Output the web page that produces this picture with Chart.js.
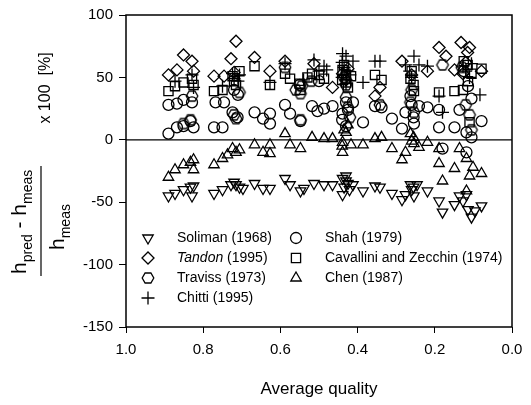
<!DOCTYPE html>
<html><head><meta charset="utf-8">
<script src="https://cdn.jsdelivr.net/npm/chart.js@4.4.0/dist/chart.umd.min.js"></script>
<style>html,body{margin:0;padding:0;background:#fff}#wrap{width:531px;height:405px}</style>
</head><body><div id="wrap"><canvas id="c" width="531" height="405"></canvas></div>
<script>
// ---- data ----
const xTicks = [1.0, 0.8, 0.6, 0.4, 0.2, 0.0];
const yTicks = [100, 50, 0, -50, -100, -150];
const seriesNames = ["Soliman (1968)", "Tandon (1995)", "Traviss (1973)", "Chitti (1995)", "Shah (1979)", "Cavallini and Zecchin (1974)", "Chen (1987)"];

const solimanX = [0.89,0.873,0.851,0.833,0.829,0.825,0.772,0.75,0.728,0.715,0.706,0.697,0.667,0.645,0.627,0.588,0.575,0.548,0.539,0.513,0.487,0.465,0.439,0.439,0.43,0.421,0.412,0.386,0.355,0.342,0.311,0.285,0.276,0.263,0.254,0.246,0.219,0.189,0.18,0.149,0.136,0.127,0.114,0.105,0.096,0.079,0.435,0.425,0.26,0.255,0.72,0.43,0.118];
const solimanY = [-45,-43,-40,-38,-45,-37,-43,-40,-36,-36,-38,-39,-35,-39,-39,-31,-36,-41,-39,-35,-36,-36,-31,-44,-33,-40,-36,-41,-37,-38,-43,-48,-44,-36,-45,-36,-41,-49,-58,-52,-45,-49,-56,-62,-57,-53,-38,-35,-40,-38,-34,-29,-44];

const tandonX = [0.89,0.868,0.851,0.829,0.825,0.772,0.746,0.728,0.715,0.667,0.627,0.588,0.513,0.465,0.439,0.355,0.342,0.285,0.219,0.189,0.171,0.149,0.132,0.127,0.11,0.079,0.43,0.425,0.26,0.72,0.115,0.12];
const tandonY = [52,56,68,63,55,51,51,65,79,66,55,63,61,42,53,35,42,63,55,74,67,56,78,53,74,55,48,57,52,54,70,62];

const travissX = [0.851,0.833,0.829,0.72,0.715,0.706,0.548,0.43,0.42,0.342,0.263,0.254,0.12,0.11,0.105,0.588,0.56,0.548,0.18,0.435,0.43,0.425,0.26,0.13,0.545,0.52];
const travissY = [13,16,35,20,17,38,16,34,18,28,30,22,28,20,8,58,40,37,60,50,44,26,40,58,43,47];

const chittiX = [0.873,0.829,0.825,0.75,0.724,0.706,0.627,0.588,0.513,0.487,0.439,0.43,0.412,0.386,0.355,0.342,0.276,0.254,0.241,0.219,0.18,0.127,0.105,0.083,0.189,0.44,0.425,0.435,0.43,0.42,0.44,0.265,0.26,0.72,0.71,0.12,0.11,0.54,0.5,0.48];
const chittiY = [47,52,42,43,53,52,46,61,64,59,69,67,63,46,63,63,60,67,60,59,22,59,61,36,35,50,55,58,45,52,62,55,50,49,47,55,50,48,55,56];

const shahX = [0.89,0.868,0.851,0.833,0.825,0.89,0.868,0.851,0.829,0.772,0.75,0.768,0.746,0.724,0.711,0.667,0.645,0.627,0.627,0.588,0.575,0.548,0.518,0.504,0.487,0.465,0.439,0.43,0.412,0.386,0.355,0.338,0.311,0.285,0.276,0.254,0.241,0.219,0.189,0.189,0.18,0.149,0.136,0.118,0.118,0.105,0.079,0.114,0.263,0.43,0.425,0.44,0.26,0.255,0.72,0.71,0.125,0.105,0.55,0.5];
const shahY = [5,10,11,15,10,28,29,32,30,10,10,30,30,22,18,22,17,21,13,28,21,15,27,23,25,27,21,11,30,14,27,26,17,9,22,13,27,26,10,24,-7,10,24,-10,6,2,15,43,35,30,24,16,28,18,40,36,55,33,44,47];

const cavalliniX = [0.89,0.873,0.851,0.829,0.825,0.772,0.75,0.724,0.706,0.667,0.627,0.588,0.575,0.548,0.518,0.487,0.439,0.43,0.417,0.355,0.338,0.263,0.254,0.189,0.149,0.127,0.114,0.105,0.079,0.11,0.435,0.43,0.425,0.44,0.26,0.255,0.72,0.715,0.125,0.115,0.55,0.53,0.5];
const cavalliniY = [39,43,46,49,44,39,40,51,55,59,44,53,49,40,53,49,56,46,51,52,48,49,39,38,39,40,47,53,57,14,60,52,42,48,55,44,47,44,63,60,45,50,52];

const chenX = [0.89,0.873,0.851,0.833,0.825,0.825,0.772,0.75,0.737,0.724,0.715,0.706,0.667,0.645,0.627,0.627,0.588,0.575,0.548,0.518,0.487,0.465,0.439,0.439,0.43,0.417,0.386,0.355,0.338,0.311,0.285,0.276,0.263,0.254,0.241,0.219,0.189,0.189,0.18,0.149,0.136,0.118,0.11,0.101,0.079,0.118,0.435,0.425,0.44,0.26,0.255];
const chenY = [-30,-24,-20,-18,-16,-24,-20,-15,-12,-7,-10,-8,-4,-10,-4,-11,5,-4,-7,2,1,1,-2,-10,6,-4,-4,1,2,-7,-16,-10,5,-3,-6,-2,-19,-7,-33,-23,-7,-15,-29,-22,-27,-41,8,12,-5,-1,2];

// ---- helpers ----
function zip(xs, ys){ return xs.map((x,i)=>({x:x, y:ys[i]})); }
const FONT = '"Liberation Sans", Arial, Helvetica, sans-serif';

// hexagon marker (flat top/bottom)
function makeHex(r){
  const s = Math.ceil(r*2+4);
  const cv = document.createElement('canvas'); cv.width = s; cv.height = s;
  const g = cv.getContext('2d');
  g.strokeStyle = '#000'; g.lineWidth = 1.3;
  g.beginPath();
  for (let k=0;k<6;k++){
    const a = Math.PI/3*k;
    const px = s/2 + r*Math.cos(a), py = s/2 + r*Math.sin(a);
    if(k===0) g.moveTo(px,py); else g.lineTo(px,py);
  }
  g.closePath(); g.stroke();
  return cv;
}
const hexImg = makeHex(5.8);

function ds(label, xs, ys, style, radius, rotation){
  return {
    label: label, data: zip(xs, ys), pointStyle: style, pointRadius: radius, pointHoverRadius: radius,
    pointRotation: rotation || 0, pointBorderColor: '#000', pointBackgroundColor: 'rgba(0,0,0,0)',
    pointBorderWidth: 1.3, showLine: false
  };
}

const datasets = [
  ds(seriesNames[0], solimanX, solimanY, 'triangle', 6, 180),
  ds(seriesNames[1], tandonX, tandonY, 'rectRot', 6),
  ds(seriesNames[2], travissX, travissY, hexImg, 5.8),
  ds(seriesNames[3], chittiX, chittiY, 'cross', 6.5),
  ds(seriesNames[4], shahX, shahY, 'circle', 5.5),
  ds(seriesNames[5], cavalliniX, cavalliniY, 'rect', 6.5),
  ds(seriesNames[6], chenX, chenY, 'triangle', 6)
];

// legend layout (inside plot)
const legendItems = [
  {i:0, col:0, row:0}, {i:1, col:0, row:1}, {i:2, col:0, row:2}, {i:3, col:0, row:3},
  {i:4, col:1, row:0}, {i:5, col:1, row:1}, {i:6, col:1, row:2}
];

const decor = {
  id: 'decor',
  beforeDatasetsDraw(chart){
    const {ctx, chartArea:a, scales} = chart;
    const y0 = scales.y.getPixelForValue(0);
    ctx.save(); ctx.strokeStyle = '#000'; ctx.lineWidth = 1.2;
    ctx.beginPath(); ctx.moveTo(a.left, y0); ctx.lineTo(a.right, y0); ctx.stroke();
    ctx.restore();
  },
  afterDraw(chart){
    const {ctx, chartArea:a} = chart;
    ctx.save();
    ctx.strokeStyle = '#000'; ctx.lineWidth = 1.5;
    ctx.strokeRect(a.left, a.top, a.right-a.left, a.bottom-a.top);

    // legend
    const colMarker = [148, 296], colText = [177, 325], rowY = [238, 258, 278, 298];
    ctx.textBaseline = 'middle'; ctx.textAlign = 'left';
    legendItems.forEach(it => {
      const d = datasets[it.i];
      const mx = colMarker[it.col], my = rowY[it.row];
      ctx.save();
      ctx.fillStyle = 'rgba(0,0,0,0)'; ctx.strokeStyle = '#000'; ctx.lineWidth = 1.3;
      Chart.helpers.drawPoint(ctx, {pointStyle: d.pointStyle, radius: d.pointRadius, rotation: d.pointRotation, borderWidth: 1.3}, mx, my);
      ctx.restore();
      ctx.fillStyle = '#000';
      const name = seriesNames[it.i];
      let tx = colText[it.col];
      if (it.i === 1) {
        ctx.font = 'italic 14px ' + FONT; ctx.fillText('Tandon', tx, my);
        tx += ctx.measureText('Tandon').width;
        ctx.font = '14px ' + FONT; ctx.fillText(' (1995)', tx, my);
      } else {
        ctx.font = '14px ' + FONT; ctx.fillText(name, tx, my);
      }
    });

    ctx.fillStyle = '#000'; ctx.strokeStyle = '#000';
    // x title
    ctx.font = '17px ' + FONT; ctx.textAlign = 'center'; ctx.textBaseline = 'alphabetic';
    ctx.fillText('Average quality', (a.left+a.right)/2, 394);

    // y title (rotated fraction)
    function runText(parts, baseX, startY){
      ctx.save(); ctx.translate(baseX, startY); ctx.rotate(-Math.PI/2);
      ctx.textAlign = 'left'; ctx.textBaseline = 'alphabetic';
      let p = 0;
      parts.forEach(pt => {
        ctx.font = pt.size + 'px ' + FONT;
        ctx.fillText(pt.t, p, pt.dy || 0);
        p += ctx.measureText(pt.t).width;
      });
      ctx.restore();
    }
    runText([{t:'h', size:21}, {t:'pred', size:14, dy:6}, {t:' - h', size:21}, {t:'meas', size:14, dy:6}], 26, 274);
    runText([{t:'h', size:21}, {t:'meas', size:14, dy:6}], 64, 250);
    ctx.lineWidth = 1.2;
    ctx.beginPath(); ctx.moveTo(41, 166); ctx.lineTo(41, 276); ctx.stroke();
    ctx.save(); ctx.translate(50, 88); ctx.rotate(-Math.PI/2);
    ctx.font = '16px ' + FONT; ctx.textAlign = 'center'; ctx.textBaseline = 'alphabetic';
    ctx.fillText('x 100  [%]', 0, 0);
    ctx.restore();

    ctx.restore();
  }
};

new Chart(document.getElementById('c'), {
  type: 'scatter',
  data: { datasets: datasets },
  options: {
    responsive: false, animation: false, devicePixelRatio: 1,
    layout: { padding: { top: 9, right: 19, left: 0, bottom: 0 } },
    plugins: { legend: { display: false }, tooltip: { enabled: false } },
    scales: {
      x: {
        type: 'linear', reverse: true, min: 0, max: 1,
        afterBuildTicks: s => { s.ticks = xTicks.map(v => ({value: v})); },
        afterFit: s => { s.height = 78; },
        ticks: { color: '#000', font: { size: 15, family: FONT }, padding: 8, callback: v => Number(v).toFixed(1), maxRotation: 0 },
        grid: { drawOnChartArea: false, drawTicks: true, tickLength: 6, color: '#000', lineWidth: 1 },
        border: { display: false }
      },
      y: {
        type: 'linear', min: -150, max: 100,
        afterBuildTicks: s => { s.ticks = yTicks.map(v => ({value: v})); },
        afterFit: s => { s.width = 126; },
        ticks: { color: '#000', font: { size: 15, family: FONT }, padding: 6, callback: v => String(v) },
        grid: { drawOnChartArea: false, drawTicks: true, tickLength: 7, color: '#000', lineWidth: 1 },
        border: { display: false }
      }
    }
  },
  plugins: [decor]
});
</script>
</body></html>
